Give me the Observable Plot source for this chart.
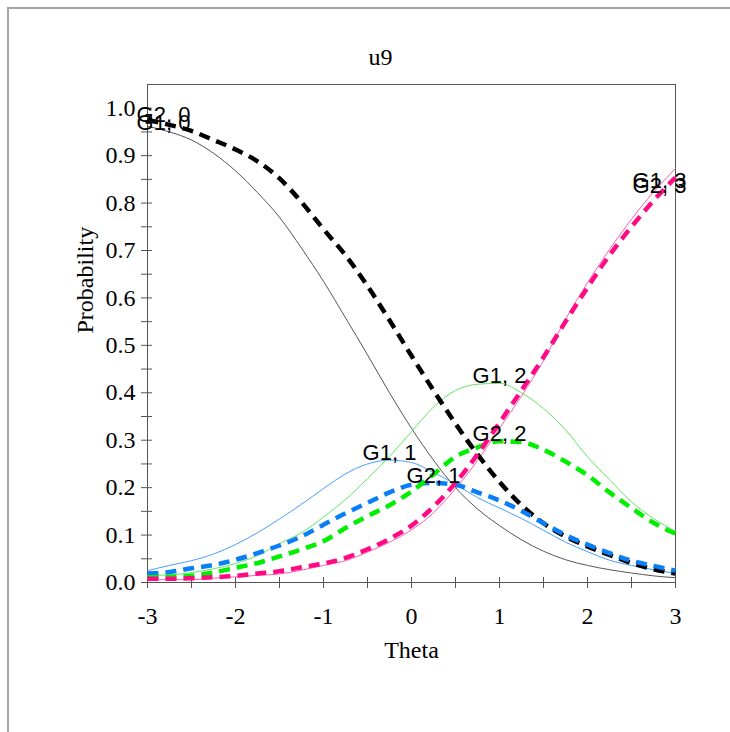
<!DOCTYPE html>
<html><head><meta charset="utf-8">
<script src="https://cdn.jsdelivr.net/npm/d3@7"></script>
<script src="https://cdn.jsdelivr.net/npm/@observablehq/plot@0.6"></script>
<style>
html,body{margin:0;padding:0;background:#fff;}
#wrap{position:relative;width:730px;height:732px;overflow:hidden;}
#chart{position:absolute;left:0;top:0;}
#border{position:absolute;left:7px;top:7px;width:800px;height:800px;border-left:2px solid #a6a6a6;border-top:2px solid #a6a6a6;z-index:2;pointer-events:none;}
</style></head><body>
<div id="wrap"><div id="chart"></div><div id="border"></div></div>
<script>
// ---- data ----
const title = "u9";
const xLabel = "Theta";
const yLabel = "Probability";
const theta = [-3, -2.75, -2.5, -2.25, -2, -1.75, -1.5, -1.25, -1, -0.75, -0.5, -0.25, 0,
               0.25, 0.5, 0.75, 1, 1.25, 1.5, 1.75, 2, 2.25, 2.5, 2.75, 3];
const seriesNames = ["G1, 0", "G1, 1", "G1, 2", "G1, 3", "G2, 0", "G2, 1", "G2, 2", "G2, 3"];
const g1_0 = [0.962, 0.950, 0.933, 0.905, 0.868, 0.822, 0.770, 0.705, 0.635, 0.558, 0.480, 0.400, 0.325,
              0.258, 0.200, 0.155, 0.120, 0.090, 0.066, 0.048, 0.036, 0.027, 0.020, 0.014, 0.010];
const g1_1 = [0.025, 0.036, 0.046, 0.060, 0.080, 0.105, 0.134, 0.165, 0.198, 0.229, 0.250, 0.258, 0.253,
              0.232, 0.207, 0.179, 0.157, 0.135, 0.110, 0.085, 0.065, 0.047, 0.036, 0.027, 0.019];
const g1_2 = [0.015, 0.016, 0.021, 0.029, 0.040, 0.057, 0.082, 0.105, 0.138, 0.175, 0.219, 0.266, 0.318,
              0.370, 0.405, 0.418, 0.420, 0.400, 0.367, 0.322, 0.265, 0.217, 0.170, 0.135, 0.108];
const g1_3 = [0.006, 0.006, 0.006, 0.009, 0.012, 0.015, 0.018, 0.026, 0.036, 0.046, 0.064, 0.085, 0.111,
              0.147, 0.198, 0.257, 0.325, 0.393, 0.468, 0.555, 0.632, 0.702, 0.766, 0.823, 0.873];
const g2_0 = [0.975, 0.965, 0.952, 0.933, 0.913, 0.888, 0.852, 0.802, 0.745, 0.690, 0.625, 0.553, 0.478,
              0.405, 0.335, 0.270, 0.212, 0.163, 0.125, 0.097, 0.076, 0.058, 0.041, 0.028, 0.019];
const g2_1 = [0.019, 0.022, 0.030, 0.037, 0.048, 0.062, 0.078, 0.097, 0.122, 0.146, 0.168, 0.190, 0.206,
              0.210, 0.206, 0.190, 0.173, 0.151, 0.125, 0.100, 0.080, 0.062, 0.046, 0.035, 0.025];
const g2_2 = [0.011, 0.012, 0.014, 0.021, 0.031, 0.041, 0.055, 0.070, 0.087, 0.115, 0.140, 0.163, 0.192,
              0.228, 0.265, 0.285, 0.298, 0.296, 0.280, 0.255, 0.226, 0.190, 0.157, 0.126, 0.103];
const g2_3 = [0.008, 0.008, 0.009, 0.011, 0.014, 0.019, 0.024, 0.032, 0.040, 0.052, 0.070, 0.092, 0.120,
              0.160, 0.210, 0.270, 0.337, 0.405, 0.475, 0.550, 0.622, 0.690, 0.750, 0.805, 0.854];
const xTicks = [-3, -2.5, -2, -1.5, -1, -0.5, 0, 0.5, 1, 1.5, 2, 2.5, 3];
const xTickLabels = [-3, -2, -1, 0, 1, 2, 3];
const yTicks = [0, 0.05, 0.1, 0.15, 0.2, 0.25, 0.3, 0.35, 0.4, 0.45, 0.5, 0.55, 0.6, 0.65, 0.7, 0.75, 0.8, 0.85, 0.9, 0.95, 1.0];
const yTickLabels = [0, 0.1, 0.2, 0.3, 0.4, 0.5, 0.6, 0.7, 0.8, 0.9, 1.0];

// ---- styles ----
const colors = ["#555555", "#4a9eff", "#5eea5e", "#ff5fae", "#000000", "#0a7ff5", "#00ee00", "#ff0a84"];

// ---- build table ----
const seriesValues = [g1_0, g1_1, g1_2, g1_3, g2_0, g2_1, g2_2, g2_3];
const rows = [];
seriesNames.forEach((name, k) => {
  seriesValues[k].forEach((p, i) => rows.push({series: name, group: name.slice(0, 2), theta: theta[i], p}));
});
const labels = seriesNames.map((name, k) => {
  const v = seriesValues[k];
  let im = 0;
  v.forEach((p, i) => { if (p > v[im]) im = i; });
  return {series: name, group: name.slice(0, 2), theta: theta[im], p: v[im], pos: im === 0 ? "left" : im === v.length - 1 ? "right" : "mid"};
});
const pick = (pos, group) => labels.filter(d => d.pos === pos && d.group === group);

const serif = "'Liberation Serif', 'Times New Roman', serif";
const sans = "'Liberation Sans', Arial, sans-serif";
const axisColor = "#555";
const lab = {x: "theta", y: "p", text: "series", fontFamily: sans, fontSize: 22, fill: "#000"};

const chart = Plot.plot({
  width: 730,
  height: 732,
  marginLeft: 147,
  marginRight: 55,
  marginTop: 84,
  marginBottom: 150,
  style: {fontFamily: serif, fontSize: "24px", background: "transparent", overflow: "visible"},
  x: {domain: [-3, 3]},
  y: {domain: [0, 1.05]},
  color: {domain: seriesNames, range: colors},
  marks: [
    Plot.frame({stroke: axisColor}),
    // crossing ticks (no text)
    Plot.axisY(yTicks, {tickSize: 11, dx: 5, tickFormat: () => "", stroke: axisColor, label: null}),
    Plot.axisX(xTicks, {tickSize: 11, dy: -5, tickFormat: () => "", stroke: axisColor, label: null}),
    // tick labels
    Plot.axisY(yTickLabels, {tickSize: 0, tickPadding: 12, tickFormat: d => d.toFixed(1), fill: "#000", fontSize: 24, fontFamily: serif, label: null}),
    Plot.axisX(xTickLabels, {tickSize: 0, tickPadding: 24, tickFormat: d => String(d), fill: "#000", fontSize: 24, fontFamily: serif, label: null}),
    // curves
    Plot.line(rows.filter(d => d.group === "G1"), {x: "theta", y: "p", z: "series", stroke: "series", strokeWidth: 1, curve: "monotone-x"}),
    Plot.line(rows.filter(d => d.group === "G2"), {x: "theta", y: "p", z: "series", stroke: "series", strokeWidth: 4.5, strokeDasharray: "11,7", curve: "monotone-x", strokeLinecap: "butt"}),
    // curve labels
    Plot.text(labels.filter(d => d.pos === "mid"), {...lab, lineAnchor: "bottom"}),
    Plot.text(pick("left", "G1"), {...lab, lineAnchor: "middle", dx: 16, dy: -3}),
    Plot.text(pick("left", "G2"), {...lab, lineAnchor: "middle", dx: 16, dy: -5}),
    Plot.text(pick("right", "G1"), {...lab, lineAnchor: "middle", dx: -16, dy: 13}),
    Plot.text(pick("right", "G2"), {...lab, lineAnchor: "middle", dx: -16, dy: 8}),
    // titles
    Plot.text([title], {frameAnchor: "top", dx: -31, dy: -37, fontFamily: serif, fontSize: 24, fill: "#000"}),
    Plot.text([xLabel], {frameAnchor: "bottom", dy: 75, fontFamily: serif, fontSize: 24, fill: "#000"}),
    Plot.text([yLabel], {frameAnchor: "left", dx: -62, rotate: -90, fontFamily: serif, fontSize: 24, fill: "#000"})
  ]
});
document.getElementById("chart").appendChild(chart);
</script></body></html>
